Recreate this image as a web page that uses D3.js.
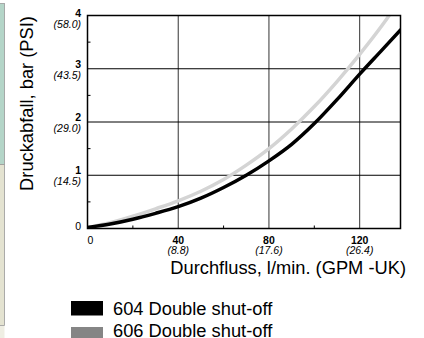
<!DOCTYPE html>
<html>
<head>
<meta charset="utf-8">
<script src="https://cdn.jsdelivr.net/npm/d3@7"></script>
<style>
  body { margin: 0; background: #fff; }
  svg { display: block; font-family: "Liberation Sans", Arial, sans-serif; }
</style>
</head>
<body>
<script>
// flow in l/min, pressure drop in bar
const flow = [0, 10, 20, 30, 40, 50, 60, 70, 80, 90, 100, 110, 120, 130, 138];
const drop604 = [0.02, 0.085, 0.175, 0.285, 0.41, 0.57, 0.77, 1.00, 1.27, 1.58, 1.97, 2.42, 2.90, 3.36, 3.73];
const drop606 = [0.02, 0.11, 0.23, 0.37, 0.52, 0.70, 0.92, 1.19, 1.50, 1.87, 2.29, 2.76, 3.27, 3.82, 4.31];

const xTicks = [0, 40, 80, 120];
const xTickGpm = ["", "(8.8)", "(17.6)", "(26.4)"];
const yTicks = [0, 1, 2, 3, 4];
const yTickPsi = ["", "(14.5)", "(29.0)", "(43.5)", "(58.0)"];
const xMinor = [20, 60, 100];
const yMinor = [0.5, 1.5, 2.5, 3.5];

const series = [
  { name: "606 Double shut-off", values: drop606, line: "#d4d4d4", swatch: "#858585" },
  { name: "604 Double shut-off", values: drop604, line: "#000", swatch: "#000" }
];

const W = 424, H = 338;
const svg = d3.select("body").append("svg").attr("width", W).attr("height", H);

// side strip from the page
svg.append("rect").attr("x", -1).attr("y", 3.5).attr("width", 5.5).attr("height", 161)
  .attr("fill", "#b4d5c8").attr("stroke", "#9a9a9a").attr("stroke-width", 0.8);
svg.append("rect").attr("x", -1).attr("y", 164.5).attr("width", 5.5).attr("height", 161)
  .attr("fill", "#e4e3d1").attr("stroke", "#9a9a9a").attr("stroke-width", 0.8);
svg.append("rect").attr("x", 0).attr("y", 326).attr("width", 4.5).attr("height", 12)
  .attr("fill", "#efeee3");

const x = d3.scaleLinear().domain([0, 138]).range([87.5, 400.5]);
const y = d3.scaleLinear().domain([0, 4]).range([228.5, 15.5]);

// grid
const g = svg.append("g");
g.selectAll(".vg").data(xTicks.filter(d => d > 0)).join("line")
  .attr("x1", d => x(d)).attr("x2", d => x(d)).attr("y1", y(4)).attr("y2", y(0))
  .attr("stroke", "#333").attr("stroke-width", 1);
g.selectAll(".hg").data(yTicks.filter(d => d > 0 && d < 4)).join("line")
  .attr("x1", x(0)).attr("x2", x(138)).attr("y1", d => y(d)).attr("y2", d => y(d))
  .attr("stroke", "#000").attr("stroke-width", 1);

// minor ticks
g.selectAll(".xm").data(xMinor).join("line")
  .attr("x1", d => x(d)).attr("x2", d => x(d)).attr("y1", y(0)).attr("y2", y(0) - 3)
  .attr("stroke", "#000");
g.selectAll(".ym").data(yMinor).join("line")
  .attr("x1", x(0)).attr("x2", x(0) + 3).attr("y1", d => y(d)).attr("y2", d => y(d))
  .attr("stroke", "#000");

// curves
svg.append("clipPath").attr("id", "plot").append("rect")
  .attr("x", x(0)).attr("y", y(4)).attr("width", x(138) - x(0)).attr("height", y(0) - y(4));
const line = d3.line().x((d, i) => x(flow[i])).y(d => y(d)).curve(d3.curveMonotoneX);
svg.append("g").attr("clip-path", "url(#plot)")
  .selectAll("path").data(series).join("path")
  .attr("d", d => line(d.values))
  .attr("fill", "none").attr("stroke", d => d.line).attr("stroke-width", 3.5)
  .attr("stroke-linecap", "round");

// frame
svg.append("rect").attr("x", x(0)).attr("y", y(4)).attr("width", x(138) - x(0)).attr("height", y(0) - y(4))
  .attr("fill", "none").attr("stroke", "#000").attr("stroke-width", 1.5);

// y tick labels
yTicks.forEach((d, i) => {
  if (d === 0) {
    svg.append("text").attr("x", 81).attr("y", y(0) + 1).attr("text-anchor", "end")
      .attr("font-size", 10.5).text("0");
    return;
  }
  svg.append("text").attr("x", 81).attr("y", y(d) + (d === 4 ? 1 : -1)).attr("text-anchor", "end")
    .attr("font-size", 10.5).attr("font-weight", "bold").text(d);
  svg.append("text").attr("x", 81).attr("y", y(d) + (d === 4 ? 12 : 10)).attr("text-anchor", "end")
    .attr("font-size", 10.5).attr("font-style", "italic").text(yTickPsi[i]);
});

// x tick labels
xTicks.forEach((d, i) => {
  if (d === 0) {
    svg.append("text").attr("x", x(0) + 3).attr("y", 244).attr("text-anchor", "middle")
      .attr("font-size", 10.5).text("0");
    return;
  }
  svg.append("text").attr("x", x(d)).attr("y", 243.5).attr("text-anchor", "middle")
    .attr("font-size", 10.5).attr("font-weight", "bold").text(d);
  svg.append("text").attr("x", x(d)).attr("y", 254).attr("text-anchor", "middle")
    .attr("font-size", 10.5).attr("font-style", "italic").text(xTickGpm[i]);
});

// axis titles
svg.append("text").attr("x", 406).attr("y", 274).attr("text-anchor", "end")
  .attr("font-size", 18.3).text("Durchfluss, l/min. (GPM -UK)");
svg.append("text").attr("transform", "translate(33,103.5) rotate(-90)").attr("text-anchor", "middle")
  .attr("font-size", 18.3).text("Druckabfall, bar (PSI)");

// legend
const legend = svg.append("g");
[series[1], series[0]].forEach((s, i) => {
  legend.append("rect").attr("x", 71).attr("y", 301 + i * 26).attr("width", 32).attr("height", 14.5)
    .attr("fill", s.swatch);
  legend.append("text").attr("x", 113).attr("y", 315 + i * 21.5).attr("font-size", 18.3).text(s.name);
});
</script>
</body>
</html>
